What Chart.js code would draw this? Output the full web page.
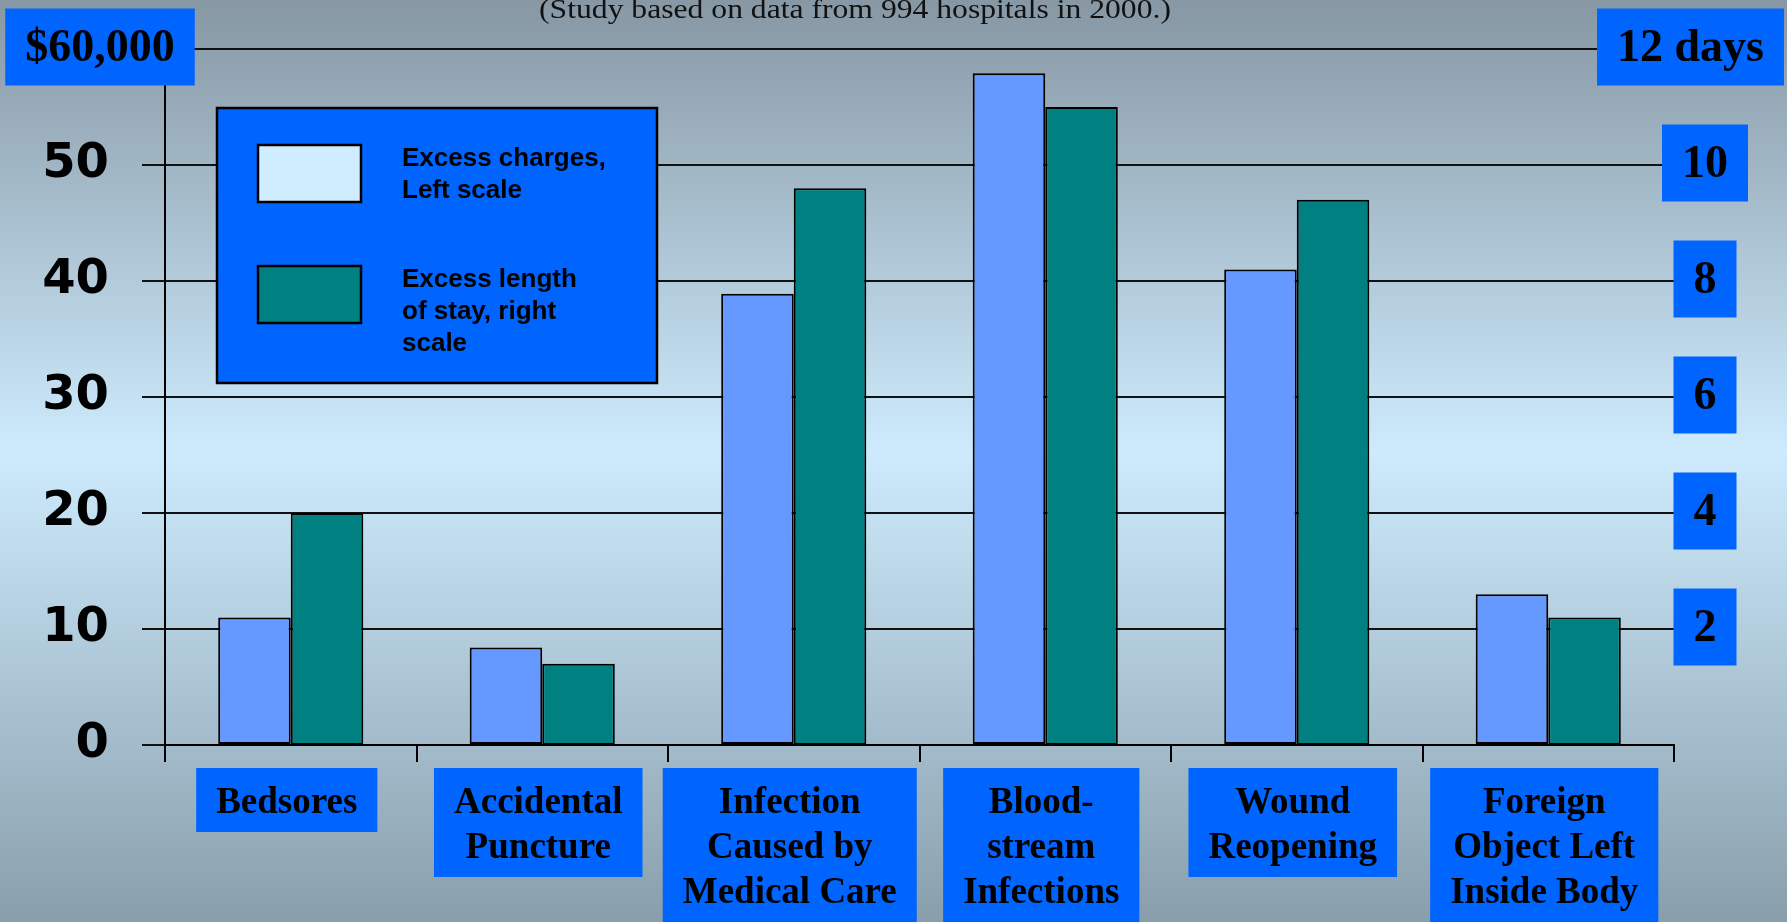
<!DOCTYPE html>
<html>
<head>
<meta charset="utf-8">
<script src="https://cdn.jsdelivr.net/npm/chart.js@4.4.1/dist/chart.umd.min.js"></script>
<style>
html,body{margin:0;padding:0;background:#9fb6c4;}
#wrap{position:relative;width:1787px;height:922px;overflow:hidden;}
canvas{display:block;}
</style>
</head>
<body>
<div id="wrap"><canvas id="c" width="1787" height="922"></canvas></div>
<script>
// ---- data ----
const categories = [
  ['Bedsores'],
  ['Accidental', 'Puncture'],
  ['Infection', 'Caused by', 'Medical Care'],
  ['Blood-', 'stream', 'Infections'],
  ['Wound', 'Reopening'],
  ['Foreign', 'Object Left', 'Inside Body']
];
const excessCharges = [11.0, 8.4, 38.9, 57.9, 41.0, 13.0];   // thousands of dollars (left scale)
const excessDays = [4.0, 1.4, 9.6, 11.0, 9.4, 2.2];          // days (right scale)
const leftTickValues = [0, 10, 20, 30, 40, 50, 60];
const leftTickLabels = ['0', '10', '20', '30', '40', '50', '$60,000'];
const rightTickValues = [2, 4, 6, 8, 10, 12];
const rightTickLabels = ['2', '4', '6', '8', '10', '12 days'];
const seriesNames = [['Excess charges,', 'Left scale'], ['Excess length', 'of stay, right', 'scale']];
const subtitle = '(Study based on data from 994 hospitals in 2000.)';

// ---- styles ----
const BOX_BLUE = '#0064ff';
const BAR_BLUE = '#6699ff';
const BAR_TEAL = '#008080';
const SWATCH_COLORS = ['#cfedff', BAR_TEAL];
const SERIF_BOLD = 'bold 46px "Liberation Serif", "Times New Roman", serif';
const CAT_FONT = 'bold 37px "Liberation Serif", "Times New Roman", serif';
const LEGEND_FONT = 'bold 26px "Liberation Sans", Arial, sans-serif';

const bgPlugin = {
  id: 'bg',
  beforeDraw(chart) {
    const c = chart.ctx;
    const g = c.createLinearGradient(0, 0, 0, chart.height);
    g.addColorStop(0, '#8797a4');
    g.addColorStop(0.49, '#cdebfd');
    g.addColorStop(1, '#899eab');
    c.save();
    c.fillStyle = g;
    c.fillRect(0, 0, chart.width, chart.height);
    c.restore();
  }
};

function box(c, x, y, w, h) {
  c.fillStyle = BOX_BLUE;
  c.fillRect(x, y, w, h);
}

const decorPlugin = {
  id: 'decor',
  afterDraw(chart) {
    const c = chart.ctx;
    const area = chart.chartArea;
    const ys = chart.scales.y, y1 = chart.scales.y1, xs = chart.scales.x;
    c.save();

    // subtitle (partly cut off at top)
    c.save();
    c.font = '28px "Liberation Serif", "Times New Roman", serif';
    c.fillStyle = '#111';
    c.textAlign = 'center';
    c.textBaseline = 'alphabetic';
    c.translate(855, 18);
    c.scale(1.13, 1);
    c.fillText(subtitle, 0, 0);
    c.restore();

    // legend
    const lx = area.left + 52, ly = area.top + 59, lw = 440, lh = 275;
    c.fillStyle = BOX_BLUE;
    c.fillRect(lx, ly, lw, lh);
    c.lineWidth = 2.5;
    c.strokeStyle = '#000';
    c.strokeRect(lx, ly, lw, lh);
    const swatchTops = [ly + 37, ly + 158];
    seriesNames.forEach((lines, i) => {
      const sy = swatchTops[i];
      c.fillStyle = SWATCH_COLORS[i];
      c.fillRect(lx + 41, sy, 103, 57);
      c.lineWidth = 2.5;
      c.strokeStyle = '#000';
      c.strokeRect(lx + 41, sy, 103, 57);
      c.font = LEGEND_FONT;
      c.fillStyle = '#000';
      c.textAlign = 'left';
      c.textBaseline = 'middle';
      lines.forEach((t, k) => c.fillText(t, lx + 185, sy + 14 + k * 32));
    });

    // left top label "$60,000"
    c.font = SERIF_BOLD;
    c.textAlign = 'center';
    c.textBaseline = 'middle';
    const topIdx = leftTickValues.length - 1;
    {
      const t = leftTickLabels[topIdx];
      const w = c.measureText(t).width + 40;
      const cy = ys.getPixelForValue(leftTickValues[topIdx]) - 2;
      const cx = 100;
      box(c, cx - w / 2, cy - 38.5, w, 77);
      c.fillStyle = '#000';
      c.fillText(t, cx, cy + 2);
    }

    // right axis labels in boxes
    rightTickValues.forEach((v, i) => {
      const t = rightTickLabels[i];
      c.font = SERIF_BOLD;
      const w = c.measureText(t).width + 40;
      let cx = area.right + 31;
      let left = cx - w / 2;
      if (left + w > chart.width - 3) left = chart.width - 3 - w;
      let cy = y1.getPixelForValue(v) - 2;
      let top = cy - 38.5;
      if (top < 5) top = 5;
      box(c, left, top, w, 77);
      c.fillStyle = '#000';
      c.textAlign = 'center';
      c.fillText(t, left + w / 2, top + 38.5 + 2);
    });

    // category labels in boxes
    c.font = CAT_FONT;
    categories.forEach((lines, i) => {
      const cx = xs.getPixelForValue(i) - 4;
      const w = Math.max(...lines.map(t => c.measureText(t).width)) + 40;
      const top = area.bottom + 23;
      const h = 19 + 45 * lines.length;
      box(c, cx - w / 2, top, w, h);
      c.fillStyle = '#000';
      c.textAlign = 'center';
      c.textBaseline = 'middle';
      lines.forEach((t, k) => c.fillText(t, cx, top + 35 + 45 * k));
    });

    c.restore();
  }
};

const chart = new Chart(document.getElementById('c').getContext('2d'), {
  type: 'bar',
  data: {
    labels: categories,
    datasets: [
      {
        label: seriesNames[0].join(' '),
        data: excessCharges,
        yAxisID: 'y',
        backgroundColor: BAR_BLUE,
        borderColor: '#000',
        borderWidth: 2,
        borderSkipped: false
      },
      {
        label: seriesNames[1].join(' '),
        data: excessDays,
        yAxisID: 'y1',
        backgroundColor: BAR_TEAL,
        borderColor: '#000',
        borderWidth: 2,
        borderSkipped: false
      }
    ]
  },
  options: {
    responsive: false,
    animation: false,
    devicePixelRatio: 1,
    layout: { padding: { left: 0, right: 113, top: 49, bottom: 160 } },
    datasets: { bar: { categoryPercentage: 0.577, barPercentage: 1 } },
    plugins: {
      legend: { display: false },
      tooltip: { enabled: false },
      title: { display: false }
    },
    scales: {
      x: {
        offset: true,
        grid: { offset: true, drawOnChartArea: false, drawTicks: true, tickLength: 17, color: '#000', lineWidth: 2 },
        border: { display: true, color: '#000', width: 2 },
        ticks: { display: false }
      },
      y: {
        position: 'left',
        min: 0,
        max: 60,
        afterFit(s) { s.width = 165; s.paddingTop = 0; s.paddingBottom = 0; },
        afterBuildTicks(s) { s.ticks = leftTickValues.map(v => ({ value: v })); },
        ticks: {
          font: { family: '"DejaVu Sans", sans-serif', weight: 'bold', size: 48 },
          color: '#000',
          padding: 33,
          callback: (v) => {
            const i = leftTickValues.indexOf(v);
            return i === leftTickValues.length - 1 ? '' : leftTickLabels[i];
          }
        },
        grid: { color: '#111', lineWidth: 2, tickLength: 23 },
        border: { display: true, color: '#000', width: 2 }
      },
      y1: {
        position: 'right',
        min: 0,
        max: 12,
        display: false,
        afterBuildTicks(s) { s.ticks = [0].concat(rightTickValues).map(v => ({ value: v })); }
      }
    }
  },
  plugins: [bgPlugin, decorPlugin]
});
</script>
</body>
</html>
